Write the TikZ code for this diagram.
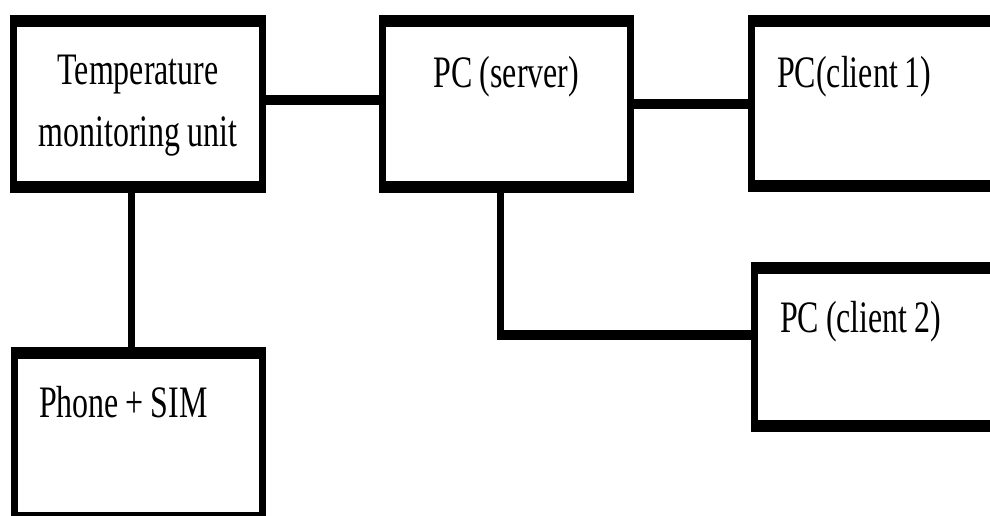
\documentclass[tikz,border=0pt]{standalone}
\usepackage{fontspec}
\setmainfont[FakeStretch=0.71, WordSpace=0.85]{Liberation Serif}
\usetikzlibrary{fit,calc}
\tikzset{
  unit/.style={inner sep=0pt, outer sep=0pt, draw=none, fill=white,
    path picture={
      \fill[black] (path picture bounding box.north west) rectangle ([yshift=-12pt]path picture bounding box.north east);
      \fill[black] (path picture bounding box.south west) rectangle ([yshift=12pt]path picture bounding box.south east);
      \fill[black] (path picture bounding box.north west) rectangle ([xshift=7pt]path picture bounding box.south west);
      \fill[black] (path picture bounding box.north east) rectangle ([xshift=-7pt]path picture bounding box.south east);
    }},
  hwire/.style={line width=10pt},
  vwire/.style={line width=7pt},
  caption/.style={inner sep=0pt, font=\fontsize{45}{62}\selectfont},
}
\begin{document}
\begin{tikzpicture}[x=1pt,y=-1pt]
\useasboundingbox (0,0) rectangle (990,515);
\clip (0,0) rectangle (990,515);

% boxes
\node[unit, fit={(10,15) (266,193)}]   (tmu)   {};
\node[unit, fit={(379,15) (634,193)}]  (srv)   {};
\node[unit, fit={(748,15) (1005,192)}] (cl1)   {};
\node[unit, fit={(751,262) (1005,432)}] (cl2)  {};
\node[unit, fit={(11,347) (266,524)}]  (phone) {};

% labels
\node[caption, align=center, anchor=north] (tmutext) at ($(tmu.north)+(0,40)$) {Temperature\\monitoring unit};
\node[caption, anchor=base] (srvtext) at ($(srv.north)+(0,72)$) {PC (server)};
\node[caption, anchor=base west] (cl1text) at ($(cl1.north west)+(29,72)$) {PC(client 1)};
\node[caption, anchor=base west] (cl2text) at ($(cl2.north west)+(29,70)$) {PC (client 2)};
\node[caption, anchor=base west] (phonetext) at ($(phone.north west)+(28,70)$) {Phone + SIM};

% links
\draw[hwire] ([yshift=4pt]tmu.east) -- ([yshift=4pt]srv.west);
\draw[hwire] (srv.east) -- (srv.east -| cl1.west);
\draw[vwire] ([xshift=-7pt]tmu.south) -- ([xshift=-7pt]tmu.south |- phone.north);
\coordinate (bend) at (500,335);
\draw[vwire] ([xshift=-6.5pt]srv.south) -- ([yshift=-5pt]bend);
\draw[hwire] ([xshift=-3.5pt]bend) -- (bend -| cl2.west);
\end{tikzpicture}
\end{document}
